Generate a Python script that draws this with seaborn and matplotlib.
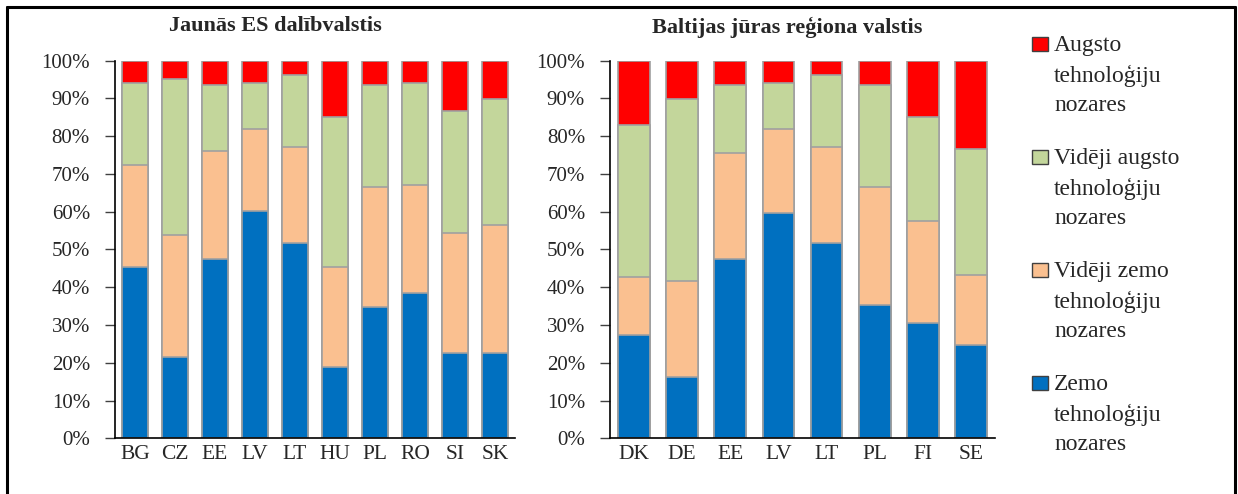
import numpy as np
import pandas as pd
import matplotlib
matplotlib.use("Agg")
import matplotlib.pyplot as plt
import seaborn as sns
from matplotlib.patches import Rectangle
from matplotlib.lines import Line2D

# values (% of each country)
new_eu = ["BG", "CZ", "EE", "LV", "LT", "HU", "PL", "RO", "SI", "SK"]
new_low = [45.4, 21.6, 47.5, 60.2, 51.7, 18.9, 34.8, 38.5, 22.6, 22.6]
new_medlow = [26.9, 32.2, 28.6, 21.7, 25.4, 26.5, 31.8, 28.6, 31.8, 34.0]
new_medhigh = [21.8, 41.3, 17.5, 12.2, 19.1, 39.7, 27.0, 27.0, 32.3, 33.3]
new_high = [5.9, 4.9, 6.4, 5.9, 3.8, 14.9, 6.4, 5.9, 13.3, 10.1]

baltic = ["DK", "DE", "EE", "LV", "LT", "PL", "FI", "SE"]
bal_low = [27.4, 16.2, 47.5, 59.7, 51.7, 35.3, 30.5, 24.7]
bal_medlow = [15.2, 25.5, 28.0, 22.2, 25.4, 31.2, 27.0, 18.5]
bal_medhigh = [40.4, 48.2, 18.1, 12.2, 19.1, 27.1, 27.6, 33.4]
bal_high = [17.0, 10.1, 6.4, 5.9, 3.8, 6.4, 14.9, 23.4]

series = ["Zemo\ntehnoloģiju\nnozares",
          "Vidēji zemo\ntehnoloģiju\nnozares",
          "Vidēji augsto\ntehnoloģiju\nnozares",
          "Augsto\ntehnoloģiju\nnozares"]
colors = ["#0070C0", "#FAC090", "#C3D69B", "#FF0000"]

sns.set_style("white")
plt.rcParams['font.family'] = ['Liberation Serif', 'DejaVu Serif']

fig = plt.figure(figsize=(12.38, 4.94), dpi=100)
W, H = 1238, 494


def fx(px):
    return px / W


def fy(py):
    return 1 - py / H


def stacked(ax, cats, layers, width):
    df = pd.DataFrame({"cat": cats})
    cum = np.cumsum(np.array(layers), axis=0)
    # draw from the top layer down so lower layers sit in front
    for i in range(len(layers) - 1, -1, -1):
        df["v"] = cum[i]
        sns.barplot(data=df, x="cat", y="v", color=colors[i], width=width,
                    saturation=1, edgecolor="#A0A0A0", linewidth=1.2, ax=ax)
    ax.set_ylim(0, 100)
    ax.set_xlim(-0.5, len(cats) - 0.5)
    ax.set_yticks(range(0, 101, 10))
    ax.set_yticklabels([f"{v}%" for v in range(0, 101, 10)])
    ax.set_xlabel("")
    ax.set_ylabel("")
    ax.set_xticks(np.arange(-0.5, len(cats) - 1, 1), minor=True)
    ax.tick_params(axis="x", which="major", length=0, pad=5, labelsize=15.5)
    ax.tick_params(axis="x", which="minor", length=7, width=1, color="#404040", direction="out")
    ax.tick_params(axis="y", length=7, width=1, color="#404040", direction="out",
                   pad=11, labelsize=15, left=True)
    sns.despine(ax=ax)
    for s in ["left", "bottom"]:
        ax.spines[s].set_color("black")
        ax.spines[s].set_linewidth(1.2)


ax1 = fig.add_axes([fx(115), fy(438.3), fx(400), (438.3 - 60.7) / H])
stacked(ax1, new_eu, [new_low, new_medlow, new_medhigh, new_high], 0.63)
ax2 = fig.add_axes([fx(610), fy(438.3), fx(385), (438.3 - 60.7) / H])
stacked(ax2, baltic, [bal_low, bal_medlow, bal_medhigh, bal_high], 0.66)

fig.text(fx(275), fy(31), "Jaunās ES dalībvalstis", ha="center", va="baseline",
         fontsize=16, fontweight="bold")
fig.text(fx(787), fy(33), "Baltijas jūras reģiona valstis", ha="center", va="baseline",
         fontsize=16, fontweight="bold")

# legend, drawn by hand so the square lines up with the first line
order = [3, 2, 1, 0]
for k, i in enumerate(order):
    top = 37 + 113 * k
    fig.add_artist(Rectangle((fx(1032), fy(top + 14)), fx(16), 14 / H,
                             facecolor=colors[i], edgecolor="#404040", linewidth=1,
                             transform=fig.transFigure))
    fig.text(fx(1054), fy(top - 2), series[i], ha="left", va="top", fontsize=17,
             linespacing=1.5)

# outer frame (bottom edge is cut off in the original)
for xs, ys in [([7, 7], [494, 7]), ([7, 1235], [7, 7]), ([1235, 1235], [7, 494])]:
    fig.add_artist(Line2D([fx(x) for x in xs], [fy(y) for y in ys], color="black",
                          linewidth=2.2, transform=fig.transFigure))

fig.savefig("out.png", dpi=100)
